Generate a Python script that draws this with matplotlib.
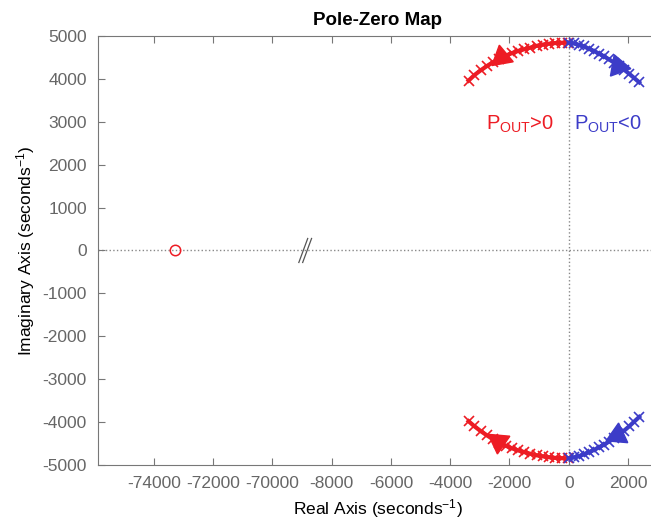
import numpy as np
import matplotlib
matplotlib.use("Agg")
import matplotlib.pyplot as plt

plt.rcParams['font.family'] = ['Liberation Sans', 'DejaVu Sans']
plt.rcParams['mathtext.fontset'] = 'custom'
plt.rcParams['mathtext.rm'] = 'Liberation Sans'
plt.rcParams['mathtext.it'] = 'Liberation Sans:italic'
plt.rcParams['axes.unicode_minus'] = False

# root locus branches (real part, imag part)
red_top_x = [-3380, -3180, -2970, -2760, -2550, -2340, -2130, -1920, -1710, -1500,
             -1290, -1080, -870, -660, -450, -240, -40]
red_top_y = [3960, 4090, 4200, 4300, 4390, 4470, 4540, 4600, 4650, 4690,
             4730, 4770, 4800, 4820, 4835, 4842, 4845]
blue_top_x = [0, 170, 340, 510, 680, 850, 1020, 1190, 1360, 1530, 1700, 1870,
              2040, 2210, 2380]
blue_top_y = [4845, 4825, 4795, 4755, 4705, 4650, 4590, 4525, 4455, 4380, 4300, 4215,
              4120, 4020, 3920]
red_bot_x = [-3380, -3180, -2970, -2760, -2550, -2340, -2130, -1920, -1710, -1500,
             -1290, -1080, -870, -660, -450, -240, -40]
red_bot_y = [-3980, -4100, -4210, -4310, -4400, -4480, -4550, -4610, -4660, -4700,
             -4740, -4775, -4800, -4820, -4835, -4842, -4845]
blue_bot_x = [0, 170, 340, 510, 680, 850, 1020, 1190, 1360, 1530, 1700, 1870,
              2040, 2210, 2380]
blue_bot_y = [-4845, -4825, -4795, -4755, -4705, -4650, -4590, -4525, -4455, -4375, -4290,
              -4200, -4100, -3990, -3880]

zero_x = -73300   # open-loop zero
zero_y = 0

# broken real axis: far-left segment is shifted right by this amount
shift = 60000
xticks_real = [-74000, -72000, -70000, -8000, -6000, -4000, -2000, 0, 2000]
xtick_labels = [str(v) for v in xticks_real]
yticks = [-5000, -4000, -3000, -2000, -1000, 0, 1000, 2000, 3000, 4000, 5000]

def to_disp(x):
    x = np.asarray(x, dtype=float)
    return np.where(x < -60000, x + shift, x)

red = '#ED1C24'
blue = '#3C3CC8'
grey = '#666666'

fig = plt.figure(figsize=(6.51, 5.26), dpi=100)
ax = fig.add_axes([0.1505, 0.116, 0.8596, 0.8156])

ax.axhline(0, color='#888888', ls=':', lw=1, zorder=1)
ax.axvline(0, color='#888888', ls=':', lw=1, zorder=1)

for xs, ys, c in [(red_top_x, red_top_y, red), (red_bot_x, red_bot_y, red),
                  (blue_top_x, blue_top_y, blue), (blue_bot_x, blue_bot_y, blue)]:
    ax.plot(xs, ys, color=c, lw=3, marker='x', ms=7.5, mew=1.2, zorder=3)

# direction arrows
ax.plot(-2300, 4520, marker=(3, 0, 10), ms=18, color=red, zorder=4)
ax.plot(1650, 4310, marker=(3, 0, -100), ms=18, color=blue, zorder=4)
ax.plot(-2400, -4450, marker=(3, 0, 175), ms=18, color=red, zorder=4)
ax.plot(1620, -4310, marker=(3, 0, -5), ms=18, color=blue, zorder=4)

ax.plot(to_disp([zero_x]), [zero_y], 'o', ms=7.5, mfc='none', mec=red, mew=1.1, zorder=3)

# axis break marks
for bx in [-8960, -8830]:
    ax.plot([bx - 150, bx + 150], [-280, 280], color='#555555', lw=0.9, zorder=2)

ax.text(-1650, 2930, r'P$_{\mathrm{OUT}}$>0', color=red, fontsize=14.5, ha='center', va='center')
ax.text(1316, 2930, r'P$_{\mathrm{OUT}}$<0', color=blue, fontsize=14.5, ha='center', va='center')

ax.set_xlim(-15890, 3000)
ax.set_ylim(-5000, 5000)
ax.set_xticks(to_disp(xticks_real))
ax.set_xticklabels(xtick_labels)
ax.set_yticks(yticks)
ax.tick_params(direction='in', length=5, colors='#777777', labelcolor=grey,
               labelsize=12.5, top=True, pad=8)
for s in ax.spines.values():
    s.set_color('#777777')

ax.set_title('Pole-Zero Map', fontsize=13.5, fontweight='bold', pad=8)
ax.set_xlabel(r'Real Axis (seconds$^{-1}$)', fontsize=12.5)
ax.set_ylabel(r'Imaginary Axis (seconds$^{-1}$)', fontsize=12.5)

fig.savefig('out.png', dpi=100)
